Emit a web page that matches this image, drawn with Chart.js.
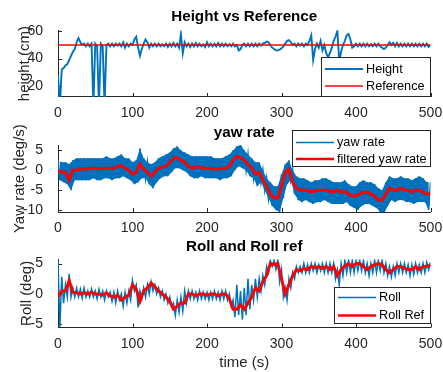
<!DOCTYPE html>
<html lang="en">
<head>
  <meta charset="UTF-8" />
  <title>Height, yaw rate and roll</title>
  <script src="https://cdn.jsdelivr.net/npm/chart.js@4.4.0/dist/chart.umd.min.js"></script>
  <style>
    body { margin: 0; background: #fff; }
    .wrap { position: relative; width: 443px; height: 372px; }
    .wrap canvas { position: absolute; left: 0; top: 0; }
  </style>
</head>
<body>
  <div class="wrap">
    <canvas id="height-chart" width="443" height="372"></canvas>
    <canvas id="yaw-chart" width="443" height="372"></canvas>
    <canvas id="roll-chart" width="443" height="372"></canvas>
  </div>

  <script>
    // samples every 5 s; the *Lo arrays sit half a step later
    var STEP = 5;
    var HEIGHT_STEP = 2.5;
    var xTicks = [0, 100, 200, 300, 400, 500];
    var heightTicks = [20, 40, 60];
    var yawTicks = [-10, -5, 0, 5];
    var rollTicks = [-5, 0, 5];

    // height, one value every 2.5 s
    var heightVal = [28, 5, 32, 33, 35, 36, 39, 42, 45, 47,
      52, 55, 52, 50, 51, 49, 51, 49, 51, 5,
      51, 49, 5, 51, 49, 5, 50, 51, 49, 51,
      49, 51, 49.5, 51, 49, 52, 48, 51, 49, 51,
      50, 54, 56, 48, 42, 47, 51, 54, 52, 48,
      51, 49, 51, 49, 51, 49, 50.5, 49, 51, 48.5,
      51, 49, 51.5, 49, 51, 48, 58, 44, 52, 49,
      51, 48.5, 51, 49, 51.5, 49, 51, 49, 50.5, 48.5,
      52, 49, 51, 49, 51, 49, 51.5, 49, 51, 49,
      51, 49, 50.5, 49, 51, 49, 50, 46, 47, 50,
      51, 49, 51, 49, 51, 49, 51, 49, 51, 49.5,
      51, 51.5, 52.5, 52, 50, 48, 47, 46, 46, 46.5,
      47.5, 49, 51, 53, 53.5, 52, 50, 51, 49, 51,
      49.5, 51, 49, 51, 50, 53, 57, 39, 47, 51,
      48, 53, 46, 50, 44, 41, 44, 48, 53, 56,
      60.5, 38, 45, 50, 53, 57, 58, 54, 48, 49,
      51, 49, 51, 49, 51, 49, 51, 49, 50.5, 49,
      51, 49, 51, 49, 48, 47, 48, 50, 52, 50,
      51.5, 49, 51.5, 49, 51, 49, 51, 49, 51, 49,
      51, 49, 51, 49, 51, 49, 51, 49, 51, 48.5,
      50];
    var refTime = [0, 500];
    var refValue = [50, 50];

    var yawHi = [2.5, 2, 2, 1.5, 2.5, 3, 3, 3, 3, 3,
      3, 3, 3, 3.5, 3, 3, 3.5, 4, 3, 3,
      2, 2.5, 5.5, 3, 2, 1.5, 2, 3, 3.5, 4,
      4.5, 5.5, 6, 5, 4.5, 4, 3.5, 3.5, 3.5, 3.5,
      3.5, 3.5, 3, 3, 3, 3.5, 4, 5, 6, 6.5,
      5, 4, 3, 2, 2, 0, -2, -3, -4, -4,
      -1, 1.5, 2.5, 0, -1.5, -2, -2, -2.5, -3, -2.5,
      -2.5, -2, -2, -2.5, -3, -3, -3, -2.5, -3.5, -4,
      -4, -3, -2.5, -3, -3, -3.5, -4.5, -5, -3, -1.5,
      -2, -2, -1.5, -2, -2, -2.5, -2, -1.5, -2, -3,
      -3];
    var yawLo = [-2.5, -3, -3.5, -5, -2.5, -2.5, -2.5, -2.5, -2.5, -2,
      -2.5, -2.5, -2, -2, -2.5, -2, -2, -1.5, -2, -2.5,
      -3.5, -3, -2, -2, -3.5, -4.5, -3, -2, -1.5, -1.5,
      -0.5, 0.5, 0.5, 0, -0.5, -1.5, -2, -2, -1.5, -2,
      -2, -2, -2, -2.5, -2, -2, -1.5, 0, 1, 0.5,
      0, -1.5, -2, -4, -3, -5, -7, -9, -10, -10.5,
      -7, -3.5, -2.5, -6, -7.5, -8, -7.5, -8, -8.5, -8,
      -8, -7.5, -8, -8.5, -8.5, -8.5, -8.5, -8, -9, -9.5,
      -10, -9, -8.5, -8.5, -9, -9.5, -10.5, -11, -9, -7.5,
      -8, -7.5, -7.5, -8, -8, -8.5, -8, -8, -8, -10];
    var yawFiltered = [0, -0.5, -0.5, -2.5, 0, 0, 0.3, 0.3, 0.3, 0.5,
      0.5, 0.3, 0.5, 0.5, 0.5, 0.5, 1, 1.2, 0.5, 0,
      -1, -0.5, 1.5, 0.3, -0.5, -1.5, -0.5, 0.5, 0.8, 1,
      2, 3, 3.2, 2.5, 2, 1, 0.5, 0.8, 0.8, 0.5,
      0.5, 0.5, 0.3, 0.3, 0.5, 0.5, 1, 2.5, 3.5, 3.2,
      2.5, 1.5, 0.5, -1, -0.5, -2.5, -4, -6, -7, -7,
      -4, -0.5, 0.2, -3, -4.5, -5, -5, -5, -5.5, -5.2,
      -5, -5, -5, -5.3, -5.5, -5, -5.5, -5.3, -6, -6.5,
      -6.5, -6, -5.5, -5.5, -6, -6.5, -7.5, -7.5, -6, -4.5,
      -5, -5, -4.5, -5, -5, -5.5, -5, -5, -5.5, -6,
      -6];

    var rollHi = [5.5, 2.8, 1.5, 3.3, 1, 1, 0.8, 1, 0.5, 0.8,
      0.5, 0.8, 0.5, 0.5, 0.3, 0.3, 0.5, 0, 0.3, 0.5,
      2.2, 1.5, 0.5, 1, 1.5, 2, 1.5, 1, 0.5, 0,
      -0.5, -1.5, -1, -0.5, 0.5, 0.5, 0.5, 0.3, 0.5, 0.3,
      0.3, 0.3, 0.5, 0.3, 0.5, 0.5, 0, -1, 1.5, 0.5,
      1, 2.5, 1.5, 2.5, 2.5, 3, 4.5, 5.5, 5.5, 5.5,
      4, 1, 2.5, 3.5, 4.5, 4.5, 5, 4.8, 5, 5,
      4.8, 5, 5, 5, 5, 4, 5, 5.5, 5.5, 5.5,
      5.5, 5.5, 5.5, 5, 5, 5.5, 5.5, 5.5, 5, 4.5,
      4.5, 5, 5, 5, 4.8, 4.8, 5, 4.8, 5, 5.2,
      5.2];
    var rollLo = [-5.5, -1.5, -0.5, -0.5, -0.5, -0.5, -0.7, -0.5, -0.5, -0.5,
      -0.8, -0.5, -1, -0.5, -1.2, -1.5, -1, -2, -1.5, -1,
      0.5, -2.2, -0.8, -0.5, 0, 0.5, 0, -0.5, -1, -1.5,
      -2, -3.5, -3, -2.8, -1.5, -0.8, -0.8, -1, -0.8, -0.8,
      -1, -0.8, -0.8, -1, -0.8, -1, -2, -3.8, -3.5, -4.2,
      -3.5, -2.5, -1, -0.5, 0.5, 1.5, 3.5, 4.5, 4, 2,
      -0.5, -1, 1, 2.5, 3.5, 3.5, 3.5, 3.5, 3.8, 3.5,
      3.8, 3.5, 3.5, 3.5, 2.5, 1.5, 3, 3.5, 3.5, 3.5,
      3.8, 3.8, 3.5, 3, 3.5, 3.5, 3.8, 3.5, 3, 2.8,
      3, 3.5, 3.5, 3.5, 3, 3.2, 3.5, 3.5, 3.5, 4];
    var rollRef = [-0.5, 0.5, 0.5, 2.2, 0.3, 0.2, 0, 0.2, 0, 0.3,
      0, 0, -0.2, 0.2, -0.3, -0.5, -0.2, -1, -0.5, -0.2,
      1.5, 0.8, -1.2, 0.5, 1, 1.8, 1.2, 0.5, 0, -0.5,
      -1.2, -2.5, -2, -1.5, -1.5, 0, 0, -0.3, 0, 0,
      -0.2, 0, 0, -0.3, 0, 0, -0.8, -2.5, -2.5, -1.8,
      -2.5, -1.5, -0.5, 1, 0.5, 2, 3, 5, 4.8, 5,
      2.5, 0, 1.5, 3, 4, 3.8, 4.2, 4, 4.5, 4.3,
      4.5, 4.2, 4.5, 4, 4.5, 3, 4, 4.6, 5, 4.5,
      5, 5, 4.5, 4, 4.5, 4.8, 5, 4.8, 4, 3.5,
      4, 4.5, 4.5, 4.2, 4, 4, 4.5, 4, 4.5, 4.5,
      4.8];

    var BLUE = '#0072BD';
    var RED = '#FF0000';
    var INK = '#262626';
    Chart.defaults.font.family = '"Liberation Sans", Arial, sans-serif';

    // noisy traces: alternate between the upper and lower edge of the band
    function zigzag(hi, lo) {
      var pts = [];
      for (var i = 0; i < hi.length; i++) {
        pts.push({ x: i * STEP, y: hi[i] });
        if (i < lo.length) pts.push({ x: i * STEP + STEP / 2, y: lo[i] });
      }
      return pts;
    }

    function series(vals, step, shift) {
      return vals.map(function (v, i) { return { x: i * step + (shift || 0), y: v }; });
    }

    function pairs(xs, ys) {
      return xs.map(function (x, i) { return { x: x, y: ys[i] }; });
    }

    // matlab style ticks pointing into the axes
    var insideTicks = {
      id: 'insideTicks',
      beforeDatasetsDraw: function (chart) {
        var ctx = chart.ctx, a = chart.chartArea;
        ctx.save();
        ctx.strokeStyle = INK;
        ctx.lineWidth = 1;
        ctx.beginPath();
        chart.scales.x.ticks.forEach(function (t) {
          var px = Math.round(chart.scales.x.getPixelForValue(t.value)) + 0.5;
          ctx.moveTo(px, a.bottom);
          ctx.lineTo(px, a.bottom - 4);
        });
        chart.scales.y.ticks.forEach(function (t) {
          var py = Math.round(chart.scales.y.getPixelForValue(t.value)) + 0.5;
          ctx.moveTo(a.left, py);
          ctx.lineTo(a.left + 4, py);
        });
        ctx.stroke();
        ctx.restore();
      }
    };

    // opaque legend box inside the axes, only for labelled datasets
    var boxLegend = {
      id: 'boxLegend',
      afterDraw: function (chart, args, opts) {
        var ctx = chart.ctx;
        ctx.save();
        ctx.fillStyle = '#fff';
        ctx.fillRect(opts.x, opts.y, opts.w, opts.h);
        ctx.strokeStyle = INK;
        ctx.lineWidth = 1;
        ctx.strokeRect(opts.x + 0.5, opts.y + 0.5, opts.w - 1, opts.h - 1);
        ctx.font = '12.7px "Liberation Sans", Arial, sans-serif';
        ctx.textBaseline = 'middle';
        var row = 0;
        chart.data.datasets.forEach(function (ds) {
          if (!ds.label) return;
          var y = opts.y + opts.first + row * opts.gap;
          row++;
          ctx.strokeStyle = ds.borderColor;
          ctx.lineWidth = Math.min(ds.borderWidth, 2.5);
          ctx.beginPath();
          ctx.moveTo(opts.x + 4, y);
          ctx.lineTo(opts.x + 42, y);
          ctx.stroke();
          ctx.fillStyle = '#000';
          ctx.fillText(ds.label, opts.x + 45, y);
        });
        ctx.restore();
      }
    };

    function makeChart(id, cfg) {
      return new Chart(document.getElementById(id), {
        type: 'line',
        data: { datasets: cfg.datasets },
        options: {
          responsive: false,
          animation: false,
          events: [],
          elements: { point: { radius: 0 }, line: { tension: 0 } },
          layout: { padding: cfg.padding },
          plugins: {
            legend: { display: false },
            tooltip: { enabled: false },
            filler: { propagate: false },
            title: {
              display: true,
              text: cfg.title,
              fullSize: false,
              color: '#000',
              font: { size: 15.2, weight: 'bold' },
              padding: cfg.titlePad
            },
            boxLegend: cfg.legend
          },
          scales: {
            x: {
              type: 'linear',
              min: 0,
              max: 500,
              grid: { display: false },
              border: { display: true, color: INK, width: 1 },
              afterBuildTicks: function (s) { s.ticks = xTicks.map(function (v) { return { value: v }; }); },
              afterFit: function (s) { s.height = cfg.xHeight; },
              ticks: { color: INK, font: { size: 14 }, padding: 0, maxRotation: 0 },
              title: cfg.xTitle || { display: false }
            },
            y: {
              min: cfg.yMin,
              max: cfg.yMax,
              grid: { display: false },
              border: { display: true, color: INK, width: 1 },
              afterBuildTicks: function (s) { s.ticks = cfg.yTicks.map(function (v) { return { value: v }; }); },
              afterFit: function (s) { s.width = 58; },
              ticks: { color: INK, font: { size: 14 }, padding: 7 },
              title: {
                display: true,
                text: cfg.yLabel,
                color: INK,
                font: { size: 15 },
                padding: { top: cfg.yLabelPad, bottom: 0 }
              }
            }
          }
        },
        plugins: [insideTicks, boxLegend]
      });
    }

    makeChart('height-chart', {
      title: 'Height vs Reference',
      titlePad: { top: 8, bottom: 4 },
      padding: { top: 0, bottom: 252, left: 0, right: 12.5 },
      xHeight: 23,
      yMin: 11.8, yMax: 60.8, yTicks: heightTicks,
      yLabel: 'height (cm)', yLabelPad: 15.5,
      legend: { x: 321, y: 57, w: 110, h: 40, first: 12, gap: 17 },
      datasets: [
        { label: 'Height', data: series(heightVal, HEIGHT_STEP), borderColor: BLUE, borderWidth: 1.9, order: 2, clip: 0 },
        { label: 'Reference', data: pairs(refTime, refValue), borderColor: RED, borderWidth: 1.5, order: 1, clip: 0 }
      ]
    });

    makeChart('yaw-chart', {
      title: 'yaw rate',
      titlePad: { top: 4, bottom: 3 },
      padding: { top: 120, bottom: 137, left: 0, right: 12.5 },
      xHeight: 23,
      yMin: -10.5, yMax: 6.3, yTicks: yawTicks,
      yLabel: 'Yaw rate (deg/s)', yLabelPad: 10.5,
      legend: { x: 292, y: 130, w: 139, h: 37, first: 12.5, gap: 16.5 },
      datasets: [
        { label: 'yaw rate', data: zigzag(yawHi, yawLo), borderColor: BLUE, borderWidth: 1.6, order: 2, clip: 0 },
        { label: 'filtered yaw rate', data: series(yawFiltered, STEP), borderColor: RED, borderWidth: 3, order: 1, clip: 0 },
        // solid body of the noisy band between its upper and lower edge
        { data: series(yawHi, STEP), borderWidth: 0, borderColor: BLUE, backgroundColor: BLUE, fill: '+1', order: 3, clip: 0 },
        { data: series(yawLo, STEP, STEP / 2), borderWidth: 0, borderColor: BLUE, order: 4, clip: 0 }
      ]
    });

    makeChart('roll-chart', {
      title: 'Roll and Roll ref',
      titlePad: { top: 6, bottom: 3 },
      padding: { top: 232, bottom: 0, left: 0, right: 12.5 },
      xHeight: 44.5,
      xTitle: { display: true, text: 'time (s)', color: INK, font: { size: 15 }, padding: { top: 0, bottom: 0 } },
      yMin: -5.5, yMax: 5.7, yTicks: rollTicks,
      yLabel: 'Roll (deg)', yLabelPad: 18,
      legend: { x: 334, y: 287, w: 97, h: 37, first: 10.5, gap: 18 },
      datasets: [
        { label: 'Roll', data: zigzag(rollHi, rollLo), borderColor: BLUE, borderWidth: 1.5, order: 2, clip: 0 },
        { label: 'Roll Ref', data: series(rollRef, STEP), borderColor: RED, borderWidth: 3, order: 1, clip: 0 }
      ]
    });
  </script>
</body>
</html>
